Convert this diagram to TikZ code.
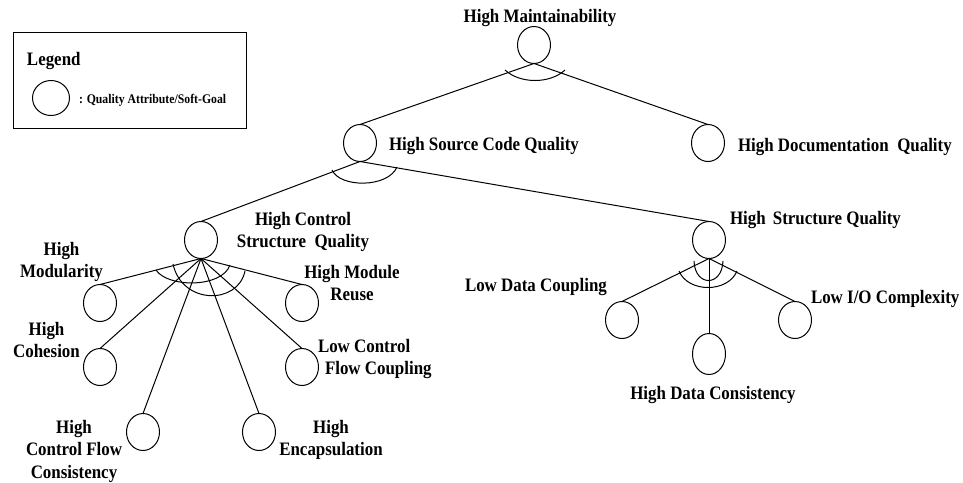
\documentclass[tikz,border=0pt]{standalone}
\usepackage{fontspec}
\setmainfont{Liberation Serif}[FakeStretch=0.89]
\usetikzlibrary{shapes.geometric}
\begin{document}
\begin{tikzpicture}[x=1pt,y=-1pt,line width=1pt,
  goal/.style={draw,ellipse,minimum width=33pt,minimum height=37pt,inner sep=0pt,outer sep=0pt},
  lbl/.style={font=\fontsize{19}{22.5}\selectfont\bfseries,inner sep=0pt,outer sep=0pt},
  smalllbl/.style={font=\fontsize{13.2}{16}\selectfont\bfseries,inner sep=0pt,outer sep=0pt},
  link/.style={draw,line width=1pt},
  andarc/.style={draw,line width=1pt}]
\useasboundingbox (0,0) rectangle (963,482);

% legend
\node[draw,rectangle,minimum width=233pt,minimum height=96pt,anchor=north west,inner sep=0pt,outer sep=0pt] (legendbox) at (13,32) {};
\node[lbl,anchor=base west] (tLeg) at (27,65) {Legend};
\node[goal,minimum width=37pt,minimum height=35pt] (legc) at (51,98) {};
\node[smalllbl,anchor=base west] (tLegd) at (79,103) {: Quality Attribute/Soft-Goal};

% goals
\node[goal] (root) at (534,45) {};
\node[goal] (sc) at (360,143) {};
\node[goal] (doc) at (708,143) {};
\node[goal] (cs) at (201,240) {};
\node[goal] (sq) at (709,240) {};
\node[goal] (mod) at (100,303) {};
\node[goal] (reuse) at (302,303) {};
\node[goal] (coh) at (100,367) {};
\node[goal] (lcfc) at (302,367) {};
\node[goal] (cfc) at (143,432) {};
\node[goal] (enc) at (259,432) {};
\node[goal] (ldc) at (622,320) {};
\node[goal,minimum height=41pt] (hdc) at (709,354) {};
\node[goal] (lio) at (795,320) {};

% labels
\node[lbl,anchor=base] (tRoot) at (540,22) {High Maintainability};
\node[lbl,anchor=base west] (tSc) at (389,150) {High Source Code Quality};
\node[lbl,anchor=base west] (tDoc) at (738,151) {High Documentation\ \ Quality};
\node[lbl,anchor=north,align=center] (tCs) at (303,212) {High Control\\Structure\ \ Quality};
\node[lbl,anchor=base west] (tSq) at (730,224) {High\hspace{3pt} Structure Quality};
\node[lbl,anchor=north,align=center] (tMod) at (61.5,242) {High\\Modularity};
\node[lbl,anchor=north,align=center] (tCoh) at (46.5,322) {High\\Cohesion};
\node[lbl,anchor=north,align=center] (tReuse) at (352,265) {High Module\\Reuse};
\node[lbl,anchor=north west,align=left] (tLcfc) at (318,339) {Low Control\\\hspace*{7pt}Flow Coupling};
\node[lbl,anchor=north,align=center] (tCfc) at (74,420) {High\\Control Flow\\Consistency};
\node[lbl,anchor=north,align=center] (tEnc) at (331,420) {High\\Encapsulation};
\node[lbl,anchor=base west] (tLdc) at (465,291) {Low Data Coupling};
\node[lbl,anchor=base] (tHdc) at (713,399) {High Data Consistency};
\node[lbl,anchor=base west] (tLio) at (811,303) {Low I/O Complexity};

% connectors
\draw[link] (root.south) -- (sc.north);
\draw[link] (root.south) -- (doc.north);
\draw[link] (sc.south) -- (cs.north);
\draw[link] (sc.south) -- (sq.north);
\draw[link] (cs.south) -- (mod.north);
\draw[link] (cs.south) -- (coh.north);
\draw[link] (cs.south) -- (cfc.north);
\draw[link] (cs.south) -- (enc.north);
\draw[link] (cs.south) -- (lcfc.north);
\draw[link] (cs.south) -- (reuse.north);
\draw[link] (sq.south) -- (ldc.north);
\draw[link] (sq.south) -- (hdc.north);
\draw[link] (sq.south) -- (lio.north);

% decomposition arcs
\draw[andarc] (505,70) .. controls (520,84) and (550,84) .. (565,70);
\draw[andarc] (332,170) .. controls (340,188) and (388,188) .. (397,167);
\draw[andarc] (156,270) .. controls (168,288) and (222,288) .. (230,265);
\draw[andarc] (173,264) .. controls (182,305) and (238,305) .. (245,271);
\draw[andarc] (694,261) .. controls (695,287) and (722,287) .. (723,261);
\draw[andarc] (679,271) .. controls (688,293) and (728,293) .. (737,271);
\end{tikzpicture}
\end{document}
